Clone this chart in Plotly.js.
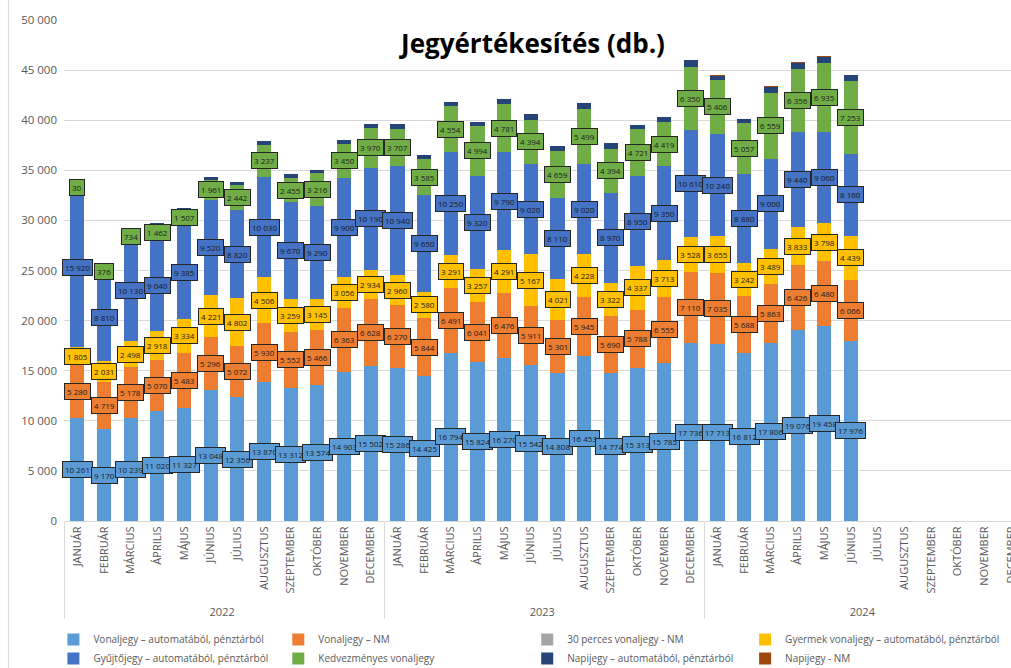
<!DOCTYPE html>
<html>
<head>
<meta charset="utf-8">
<script src="https://cdn.plot.ly/plotly-3.0.1.min.js"></script>
<style>html,body{margin:0;padding:0;background:#fff;}#chart{width:1011px;height:668px;}</style>
</head>
<body>
<div id="chart"></div>
<script>
const months = ['JANUÁR','FEBRUÁR','MÁRCIUS','ÁPRILIS','MÁJUS','JÚNIUS','JÚLIUS','AUGUSZTUS','SZEPTEMBER','OKTÓBER','NOVEMBER','DECEMBER'];
const years = ['2022','2023','2024'];

// 2022 Jan ... 2024 Jun (30 months)
const vonalAuto = [10261,9170,10239,11020,11327,13048,12356,13870,13312,13574,14903,15502,
                   15286,14425,16794,15824,16270,15542,14808,16453,14774,15313,15785,17736,
                   17713,16812,17806,19076,19458,17976];
const vonalNM   = [5280,4719,5178,5070,5483,5296,5072,5930,5552,5466,6363,6628,
                   6270,5844,6491,6041,6476,5911,5301,5945,5690,5788,6555,7110,
                   7035,5688,5863,6426,6480,6066];
const perc30NM  = [0,0,0,0,0,0,0,0,0,0,0,0,
                   0,0,0,0,0,0,0,0,0,0,0,0,
                   0,0,0,0,0,0];
const gyermek   = [1805,2031,2498,2918,3334,4221,4802,4506,3259,3145,3056,2934,
                   2960,2580,3291,3257,4291,5167,4021,4228,3322,4337,3713,3528,
                   3655,3242,3489,3833,3798,4439];
const gyujto    = [15920,8810,10130,9040,9385,9520,8820,10030,9670,9290,9900,10190,
                   10940,9650,10250,9320,9790,9020,8110,9020,8970,8950,9350,10610,
                   10240,8880,9000,9440,9060,8160];
const kedvezm   = [30,376,734,1462,1507,1961,2442,3237,2455,3216,3450,3970,
                   3707,3585,4554,4994,4781,4394,4659,5499,4394,4721,4419,6350,
                   5406,5057,6559,6356,6935,7253];
const napiAuto  = [0,0,100,200,250,300,300,400,400,300,400,400,
                   450,400,450,400,500,550,500,550,550,450,500,650,
                   400,450,600,600,550,600];
const napiNM    = [0,0,0,0,0,0,0,0,0,0,0,0,
                   0,0,0,0,0,0,0,0,0,0,0,0,
                   40,40,50,100,80,60];

const seriesNames = ['Vonaljegy – automatából, pénztárból','Vonaljegy – NM','30 perces vonaljegy - NM',
  'Gyermek vonaljegy – automatából, pénztárból','Gyűjtőjegy – automatából, pénztárból',
  'Kedvezményes vonaljegy','Napijegy – automatából, pénztárból','Napijegy - NM'];
const seriesData = [vonalAuto, vonalNM, perc30NM, gyermek, gyujto, kedvezm, napiAuto, napiNM];
const colors = ['#5B9BD5','#ED7D31','#A5A5A5','#FFC000','#4472C4','#70AD47','#264478','#9E480E'];
const labelled = [true,true,false,true,true,true,false,false];
const legendIds = ['legend','legend2','legend3','legend4','legend','legend2','legend3','legend4'];

const xYears = [], xMonths = [];
years.forEach(y => months.forEach(m => { xYears.push(y); xMonths.push(m); }));
const N = xMonths.length;

function pad(arr){ const a = arr.slice(); while(a.length < N) a.push(null); return a; }
function fmt(v){ return String(v).replace(/\B(?=(\d{3})+(?!\d))/g, ' '); }

const traces = seriesData.map((d,k) => ({
  type:'bar', name: seriesNames[k], x:[xYears, xMonths], y: pad(d),
  marker:{color: colors[k]}, hoverinfo:'skip', legend: legendIds[k]
}));

const annotations = [];
const cum = new Array(vonalAuto.length).fill(0);
seriesData.forEach((d,k) => {
  d.forEach((v,i) => {
    if (labelled[k] && v !== null) {
      annotations.push({
        x: i, y: cum[i] + v/2, xref:'x', yref:'y', text: fmt(v), showarrow:false,
        bgcolor: colors[k], bordercolor:'#262626', borderwidth:1, borderpad:2,
        font:{family:'Open Sans, Liberation Sans, sans-serif', size:8, color:'#1a1a1a'}
      });
    }
    cum[i] += v;
  });
});

const ML = 63.6, PW = 947.4;
function legendAt(px){
  return {orientation:'v', xref:'paper', yref:'container', x:(px-ML)/PW, xanchor:'left',
          y:1-625/668, yanchor:'top', traceorder:'normal', itemwidth:30,
          bgcolor:'rgba(0,0,0,0)',
          font:{family:'Open Sans, Liberation Sans, sans-serif', size:10, color:'#595959'}};
}

const layout = {
  width:1011, height:668,
  margin:{l:ML, r:0, t:20, b:147},
  paper_bgcolor:'#fff', plot_bgcolor:'#fff',
  separators:', ',
  barmode:'stack', bargap:0.47,
  showlegend:true,
  title:{text:'<b>Jegyértékesítés (db.)</b>', x:533/1011, xref:'container', xanchor:'center',
         y:1-44/668, yref:'container', yanchor:'middle',
         font:{family:'Open Sans, Lato, sans-serif', size:26, color:'#000'}},
  xaxis:{type:'multicategory', range:[-0.5, 35.0], tickangle:-90, automargin:false,
         tickfont:{family:'Open Sans, Liberation Sans, sans-serif', size:11, color:'#595959'},
         showline:true, linecolor:'#d9d9d9', linewidth:1,
         showdividers:true, dividercolor:'#d9d9d9', dividerwidth:1,
         showgrid:false, zeroline:false},
  yaxis:{range:[0,50000], dtick:5000, tickformat:',d', showgrid:true, gridcolor:'#d9d9d9',
         zeroline:false, showline:false, ticklabelstandoff:6, automargin:false,
         tickfont:{family:'Open Sans, Liberation Sans, sans-serif', size:11.5, color:'#595959'}},
  legend: legendAt(53),
  legend2: legendAt(278),
  legend3: legendAt(527),
  legend4: legendAt(745),
  annotations: annotations,
  shapes:[{type:'line', xref:'paper', yref:'paper', x0:(8-ML)/PW, x1:(8-ML)/PW,
           y0:-147/501, y1:521/501, line:{color:'#d9d9d9', width:1}}]
};

Plotly.newPlot('chart', traces, layout, {displayModeBar:false, staticPlot:true});
</script>
</body>
</html>
